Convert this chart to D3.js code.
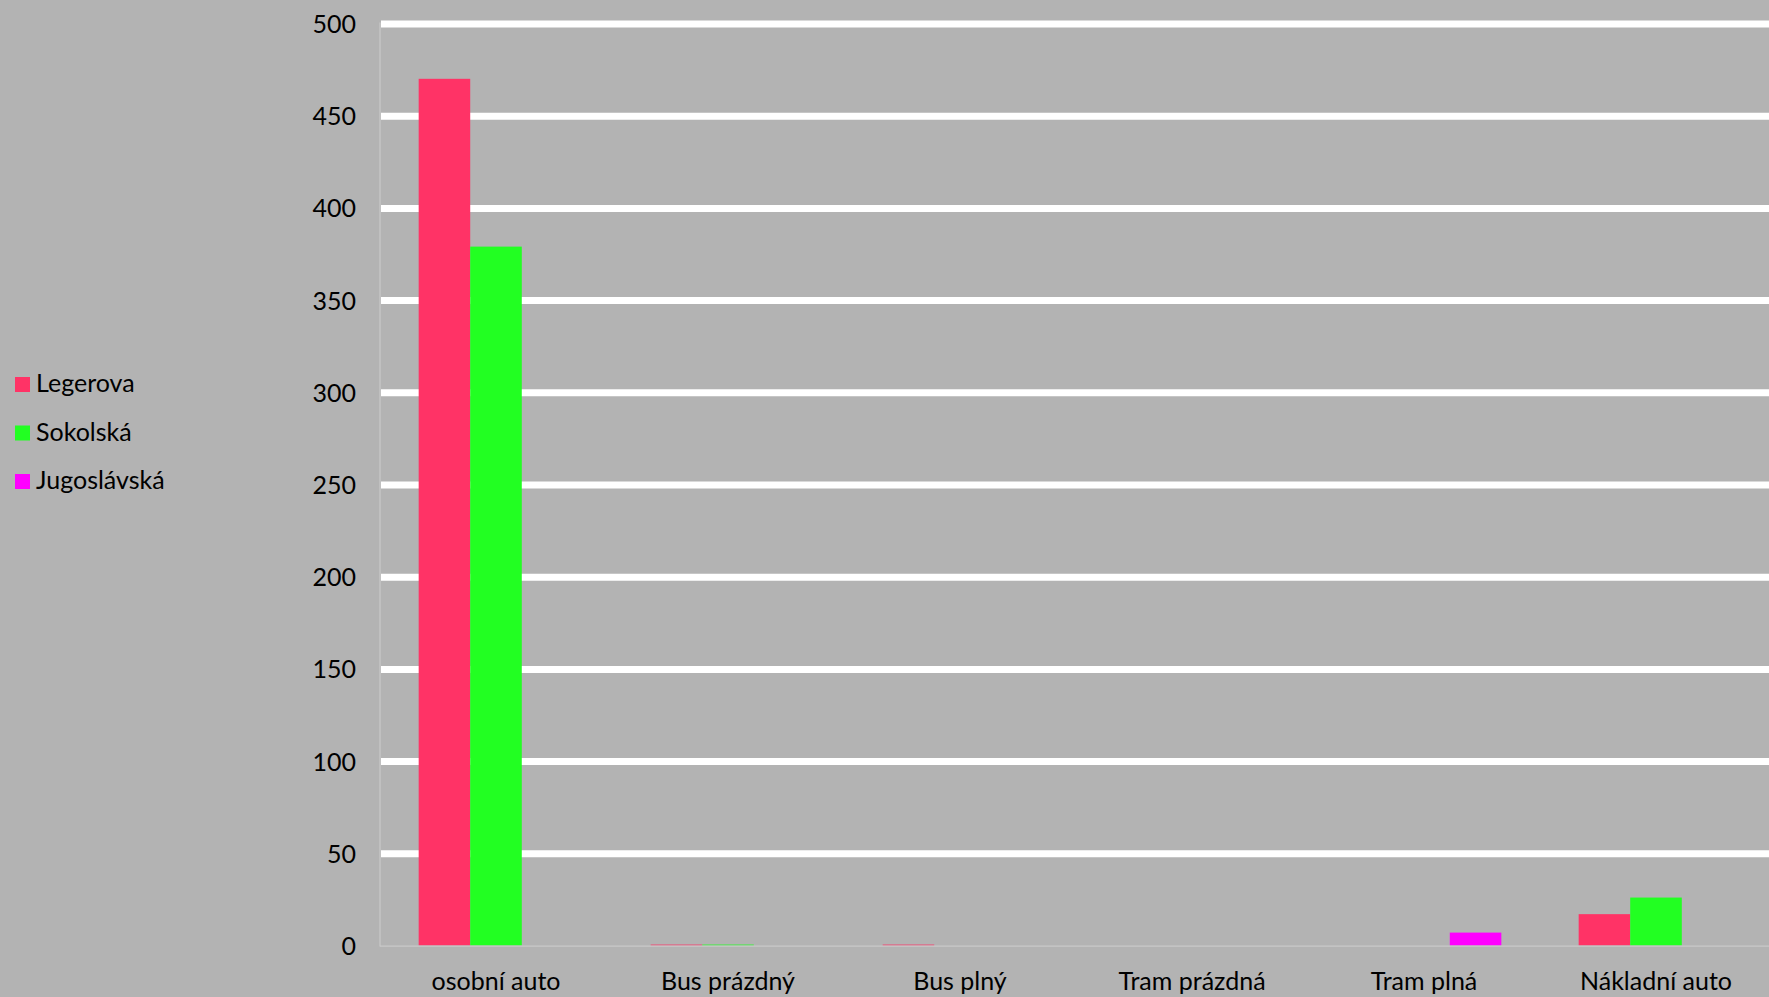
<!DOCTYPE html>
<html>
<head>
<meta charset="utf-8">
<script src="https://cdn.jsdelivr.net/npm/d3@7"></script>
<style>
  html, body { margin: 0; padding: 0; background: #b3b3b3; }
  svg { display: block; }
  text { font-family: Lato, "Open Sans", sans-serif; fill: #000; }
</style>
</head>
<body>
<div id="chart"></div>
<script>
// data
const categories = ['osobní auto', 'Bus prázdný', 'Bus plný', 'Tram prázdná', 'Tram plná', 'Nákladní auto'];
const seriesNames = ['Legerova', 'Sokolská', 'Jugoslávská'];
const legerova = [470, 0.5, 0.5, 0, 0, 17];
const sokolska = [379, 0.5, 0, 0, 0, 26];
const jugoslavska = [0, 0, 0, 0, 7, 0];
const yTicks = [0, 50, 100, 150, 200, 250, 300, 350, 400, 450, 500];

const seriesValues = [legerova, sokolska, jugoslavska];
const colors = ['#ff3366', '#22ff22', '#ff00ff'];

const width = 1769, height = 997;
const margin = {left: 380, right: -3, top: 23.5, bottom: 51.5};
const fontSize = 25;

const svg = d3.select('#chart').append('svg')
    .attr('width', width)
    .attr('height', height);

svg.append('rect')
    .attr('width', width).attr('height', height)
    .attr('fill', '#b3b3b3');

// scales
const xScale = d3.scaleBand()
    .domain(categories)
    .range([margin.left, width - margin.right])
    .paddingInner(1 / 3)
    .paddingOuter(1 / 6);
const sScale = d3.scaleBand()
    .domain(seriesNames)
    .range([0, xScale.bandwidth()]);
const yScale = d3.scaleLinear()
    .domain([0, 500])
    .range([height - margin.bottom, margin.top]);
const cScale = d3.scaleOrdinal().domain(seriesNames).range(colors);

// gridlines
const yAxis = d3.axisLeft(yScale)
    .tickValues(yTicks)
    .tickSize(-(width - margin.left))
    .tickPadding(24)
    .tickFormat(d3.format('d'));
const yAxisG = svg.append('g')
    .attr('class', 'axis y-axis')
    .attr('transform', `translate(${margin.left}, 0)`)
    .call(yAxis);
yAxisG.select('.domain').remove();
yAxisG.selectAll('.tick line')
    .attr('x1', 1)
    .attr('stroke', d => d === 0 ? 'none' : '#ffffff')
    .attr('stroke-width', 7);
yAxisG.selectAll('.tick text')
    .attr('font-size', fontSize)
    .attr('dy', '0.36em');

// axis lines
svg.append('line')
    .attr('x1', margin.left).attr('x2', margin.left)
    .attr('y1', yScale(500) - 1).attr('y2', yScale(0) + 1)
    .attr('stroke', '#c9c9c9').attr('stroke-width', 1.2);

// bars
const rows = categories.map((c, i) => ({cat: c, vals: seriesNames.map((s, j) => ({s: s, v: seriesValues[j][i]}))}));
const groups = svg.append('g').selectAll('g')
    .data(rows)
    .join('g')
    .attr('transform', d => `translate(${xScale(d.cat)}, 0)`);
groups.selectAll('rect')
    .data(d => d.vals.filter(v => v.v > 0))
    .join('rect')
    .attr('x', d => sScale(d.s))
    .attr('width', sScale.bandwidth())
    .attr('y', d => yScale(d.v))
    .attr('height', d => yScale(0) - yScale(d.v))
    .attr('fill', d => cScale(d.s));

svg.append('line')
    .attr('x1', margin.left).attr('x2', width)
    .attr('y1', yScale(0) + 0.6).attr('y2', yScale(0) + 0.6)
    .attr('stroke', '#c9c9c9').attr('stroke-width', 1.2);

// x labels
const xAxis = d3.axisBottom(xScale).tickSize(0).tickPadding(27);
const xAxisG = svg.append('g')
    .attr('class', 'axis x-axis')
    .attr('transform', `translate(0, ${yScale(0)})`)
    .call(xAxis);
xAxisG.select('.domain').remove();
xAxisG.selectAll('.tick text').attr('font-size', fontSize);

// legend
const legend = svg.append('g').selectAll('g')
    .data(seriesNames)
    .join('g')
    .attr('transform', (d, i) => `translate(15, ${392 + i * 48.5})`);
legend.append('rect')
    .attr('y', -15).attr('width', 15).attr('height', 15)
    .attr('fill', d => cScale(d));
legend.append('text')
    .attr('x', 21)
    .attr('font-size', fontSize)
    .text(d => d);

svg.selectAll('.axis text').attr('fill', '#000').style('font-family', 'Lato, "Open Sans", sans-serif');
</script>
</body>
</html>
